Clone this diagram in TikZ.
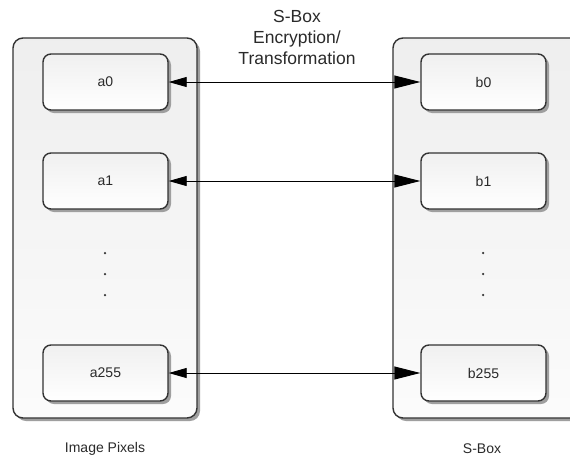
\documentclass[tikz,border=0pt]{standalone}
\usepackage{fontspec}
\setmainfont{Liberation Sans}
\usetikzlibrary{arrows.meta,shadows}
\definecolor{edge}{HTML}{333333}
\definecolor{txt}{HTML}{2A2A2A}
\begin{document}
\begin{tikzpicture}[x=1pt,y=-1pt,
  outerbox/.style={draw=edge,line width=1.4pt,rounded corners=10pt,top color=gray!13,bottom color=gray!3,
    drop shadow={shadow xshift=3pt,shadow yshift=-3pt,fill=gray!75,opacity=1}},
  cell/.style={draw=edge,line width=1.4pt,rounded corners=8pt,minimum width=125pt,minimum height=56pt,
    top color=gray!12,bottom color=white,text=txt,font=\fontsize{14}{16}\selectfont,
    drop shadow={shadow xshift=3pt,shadow yshift=-3pt,fill=gray!75,opacity=1}},
  lbl/.style={text=txt,font=\fontsize{14}{16}\selectfont},
  dot/.style={circle,fill=edge,inner sep=0pt,minimum size=2.5pt},
  link/.style={draw=black,line width=0.9pt,{Triangle[length=18pt,width=10pt]}-{Triangle[length=26pt,width=13pt]}}]
\useasboundingbox (0,0) rectangle (570,458);
\clip (0,0) rectangle (570,458);
\fill[white] (0,0) rectangle (570,458);
% outer containers
\node[outerbox,minimum width=184pt,minimum height=380pt] (L) at (105,228) {};
\node[outerbox,minimum width=200pt,minimum height=380pt] (R) at (493,228) {};
% cells
\node[cell] (a0) at (105.5,82) {a0};
\node[cell] (a1) at (105.5,181) {a1};
\node[cell] (a255) at (105.5,373) {a255};
\node[cell] (b0) at (483.5,82) {b0};
\node[cell] (b1) at (483.5,181) {b1};
\node[cell] (b255) at (483.5,373) {b255};
% dots
\node[dot] (la) at (105,253) {};
\node[dot] (lb) at (105,274) {};
\node[dot] (lc) at (105,295) {};
\node[dot] (ra) at (483,253) {};
\node[dot] (rb) at (483,274) {};
\node[dot] (rc) at (483,295) {};
% connectors
\draw[link] (a0.east) -- (b0.west);
\draw[link] (a1.east) -- (b1.west);
\draw[link] (a255.east) -- (b255.west);
% labels
\node[text=txt,align=center,font=\fontsize{17.5}{21}\selectfont] (title) at (297,37) {S-Box\\Encryption/\\Transformation};
\node[lbl] (lp) at (105,449) {Image Pixels};
\node[lbl] (rp) at (482,449) {S-Box};
\end{tikzpicture}
\end{document}
